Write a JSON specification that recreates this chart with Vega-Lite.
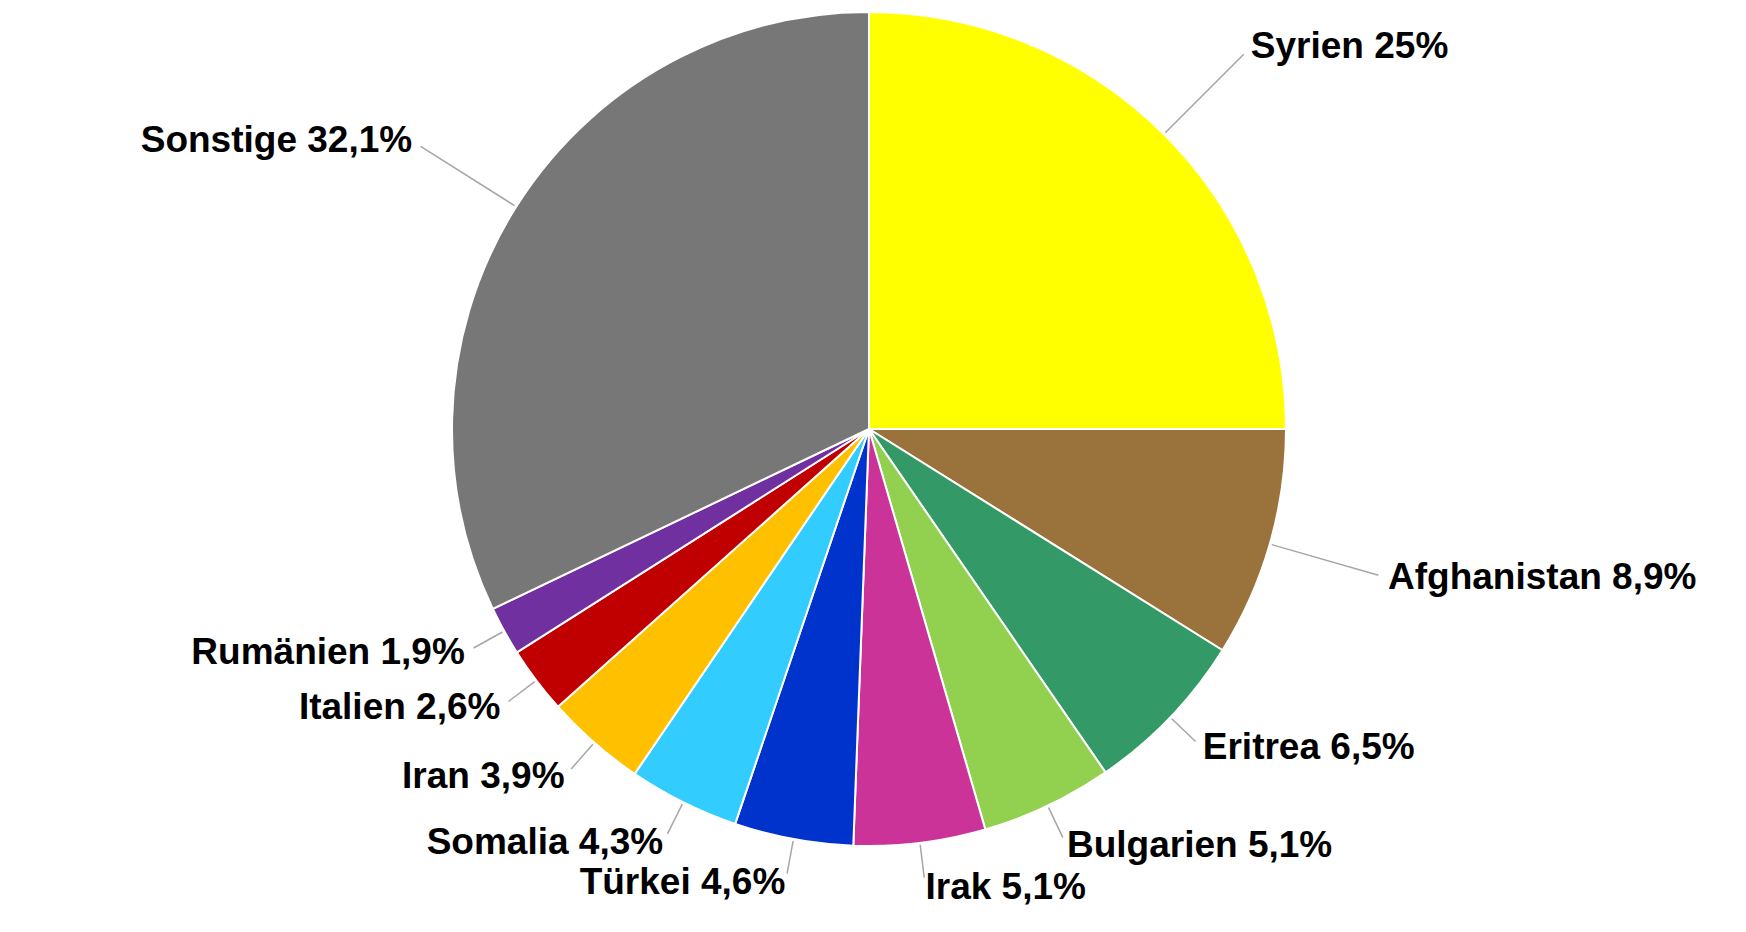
{
  "$schema": "https://vega.github.io/schema/vega-lite/v6.json",
  "autosize": {"type": "none"},
  "width": 1738,
  "height": 858,
  "padding": {"left": 0, "top": 0, "right": 8, "bottom": 74},
  "background": "white",
  "config": {"view": {"stroke": null}},
  "data": {
    "values": [
      {"rank": 1, "land": "Syrien", "anteil": 25.0, "label": "Syrien 25%"},
      {"rank": 2, "land": "Afghanistan", "anteil": 8.9, "label": "Afghanistan 8,9%"},
      {"rank": 3, "land": "Eritrea", "anteil": 6.5, "label": "Eritrea 6,5%"},
      {"rank": 4, "land": "Bulgarien", "anteil": 5.1, "label": "Bulgarien 5,1%"},
      {"rank": 5, "land": "Irak", "anteil": 5.1, "label": "Irak 5,1%"},
      {"rank": 6, "land": "Türkei", "anteil": 4.6, "label": "Türkei 4,6%"},
      {"rank": 7, "land": "Somalia", "anteil": 4.3, "label": "Somalia 4,3%"},
      {"rank": 8, "land": "Iran", "anteil": 3.9, "label": "Iran 3,9%"},
      {"rank": 9, "land": "Italien", "anteil": 2.6, "label": "Italien 2,6%"},
      {"rank": 10, "land": "Rumänien", "anteil": 1.9, "label": "Rumänien 1,9%"},
      {"rank": 11, "land": "Sonstige", "anteil": 32.1, "label": "Sonstige 32,1%"}
    ]
  },
  "layer": [
    {
      "mark": {"type": "arc", "outerRadius": 417, "stroke": "white", "strokeWidth": 2},
      "encoding": {
        "theta": {"field": "anteil", "type": "quantitative", "stack": true, "scale": {"domain": [0, 100]}},
        "order": {"field": "rank", "type": "quantitative", "sort": "ascending"},
        "color": {
          "field": "land",
          "type": "nominal",
          "legend": null,
          "scale": {
            "domain": ["Syrien", "Afghanistan", "Eritrea", "Bulgarien", "Irak", "Türkei", "Somalia", "Iran", "Italien", "Rumänien", "Sonstige"],
            "range": ["#FFFF00", "#9A733C", "#339966", "#92D050", "#CC3399", "#0033CC", "#33CCFF", "#FFC000", "#C00000", "#7030A0", "#777777"]
          }
        }
      }
    },
    {
      "transform": [
        {"stack": "anteil", "groupby": [], "sort": [{"field": "rank", "order": "ascending"}], "as": ["t0", "t1"]},
        {"fold": ["t0", "t1"], "as": ["edge", "t"]},
        {"aggregate": [{"op": "mean", "field": "t", "as": "mid"}], "groupby": ["land", "label"]},
        {"filter": "datum.mid >= 30 && datum.mid <= 75"}
      ],
      "mark": {"type": "arc", "filled": false, "outerRadius": 452, "innerRadius": 419, "stroke": "#A6A6A6", "strokeWidth": 1.5},
      "encoding": {
        "theta": {"field": "mid", "type": "quantitative", "stack": null},
        "theta2": {"field": "mid"}
      }
    },
    {
      "transform": [
        {"stack": "anteil", "groupby": [], "sort": [{"field": "rank", "order": "ascending"}], "as": ["t0", "t1"]},
        {"fold": ["t0", "t1"], "as": ["edge", "t"]},
        {"aggregate": [{"op": "mean", "field": "t", "as": "mid"}], "groupby": ["land", "label"]},
        {"filter": "datum.mid < 30 || datum.mid > 75"}
      ],
      "mark": {"type": "arc", "filled": false, "outerRadius": 530, "innerRadius": 419, "stroke": "#A6A6A6", "strokeWidth": 1.5},
      "encoding": {
        "theta": {"field": "mid", "type": "quantitative", "stack": null},
        "theta2": {"field": "mid"}
      }
    },
    {
      "transform": [
        {"stack": "anteil", "groupby": [], "sort": [{"field": "rank", "order": "ascending"}], "as": ["t0", "t1"]},
        {"fold": ["t0", "t1"], "as": ["edge", "t"]},
        {"aggregate": [{"op": "mean", "field": "t", "as": "mid"}], "groupby": ["land", "label"]},
        {"filter": "datum.mid >= 30 && datum.mid < 50"}
      ],
      "mark": {"type": "text", "radius": 462, "align": "left", "baseline": "middle", "font": "Liberation Sans", "fontWeight": "bold", "fontSize": 37, "color": "#000000"},
      "encoding": {
        "theta": {"field": "mid", "type": "quantitative", "stack": null},
        "text": {"field": "label", "type": "nominal"}
      }
    },
    {
      "transform": [
        {"stack": "anteil", "groupby": [], "sort": [{"field": "rank", "order": "ascending"}], "as": ["t0", "t1"]},
        {"fold": ["t0", "t1"], "as": ["edge", "t"]},
        {"aggregate": [{"op": "mean", "field": "t", "as": "mid"}], "groupby": ["land", "label"]},
        {"filter": "datum.mid >= 50 && datum.mid <= 75"}
      ],
      "mark": {"type": "text", "radius": 462, "align": "right", "baseline": "middle", "font": "Liberation Sans", "fontWeight": "bold", "fontSize": 37, "color": "#000000"},
      "encoding": {
        "theta": {"field": "mid", "type": "quantitative", "stack": null},
        "text": {"field": "label", "type": "nominal"}
      }
    },
    {
      "transform": [
        {"stack": "anteil", "groupby": [], "sort": [{"field": "rank", "order": "ascending"}], "as": ["t0", "t1"]},
        {"fold": ["t0", "t1"], "as": ["edge", "t"]},
        {"aggregate": [{"op": "mean", "field": "t", "as": "mid"}], "groupby": ["land", "label"]},
        {"filter": "datum.mid < 30"}
      ],
      "mark": {"type": "text", "radius": 540, "align": "left", "baseline": "middle", "font": "Liberation Sans", "fontWeight": "bold", "fontSize": 37, "color": "#000000"},
      "encoding": {
        "theta": {"field": "mid", "type": "quantitative", "stack": null},
        "text": {"field": "label", "type": "nominal"}
      }
    },
    {
      "transform": [
        {"stack": "anteil", "groupby": [], "sort": [{"field": "rank", "order": "ascending"}], "as": ["t0", "t1"]},
        {"fold": ["t0", "t1"], "as": ["edge", "t"]},
        {"aggregate": [{"op": "mean", "field": "t", "as": "mid"}], "groupby": ["land", "label"]},
        {"filter": "datum.mid > 75"}
      ],
      "mark": {"type": "text", "radius": 540, "align": "right", "baseline": "middle", "font": "Liberation Sans", "fontWeight": "bold", "fontSize": 37, "color": "#000000"},
      "encoding": {
        "theta": {"field": "mid", "type": "quantitative", "stack": null},
        "text": {"field": "label", "type": "nominal"}
      }
    }
  ]
}
